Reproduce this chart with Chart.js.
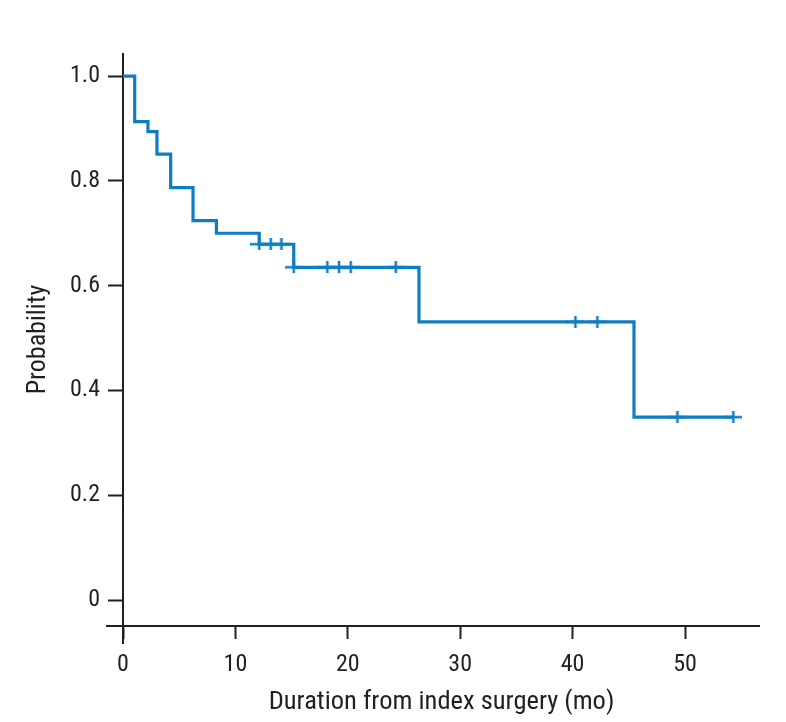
<!DOCTYPE html>
<html>
<head>
<meta charset="utf-8">
<title>Probability over time</title>
<script src="https://cdn.jsdelivr.net/npm/chart.js@4/dist/chart.umd.min.js"></script>
<style>
    html, body { margin: 0; padding: 0; background: #ffffff; }
    #wrap { width: 786px; height: 722px; position: relative; }
</style>
</head>
<body>
<div id="wrap"><canvas id="kmChart"></canvas></div>
<script>

// ================= DATA =================

const eventTimes = [0, 1.04, 2.22, 3.02, 4.24, 6.23, 8.31, 12.12, 15.19, 26.33, 45.46, 54.3];
const survival   = [1.0, 0.913, 0.894, 0.851, 0.787, 0.724, 0.700, 0.679, 0.635, 0.531, 0.349, 0.349];

const censorTimes    = [12.12, 13.14, 14.09, 15.19, 18.18, 19.22, 20.26, 24.26, 40.25, 42.2, 49.32, 54.3];
const censorSurvival = [0.679, 0.679, 0.679, 0.635, 0.635, 0.635, 0.635, 0.635, 0.531, 0.531, 0.349, 0.349];

const xTicks = [0, 10, 20, 30, 40, 50];
const yTicks = [0, 0.2, 0.4, 0.6, 0.8, 1.0];
const yTickLabels = ["0", "0.2", "0.4", "0.6", "0.8", "1.0"];


// ================= STYLE =================

const blue = "#0e7ec4";
const ink = "#231f20";
const font = "'Liberation Sans Narrow', 'Roboto Condensed', 'DejaVu Sans Condensed', sans-serif";

// "+" censor mark, a bit wider than tall
function makeCross() {
    const c = document.createElement("canvas");
    c.width = 18;
    c.height = 12;
    const g = c.getContext("2d");
    g.strokeStyle = blue;
    g.lineWidth = 2.5;
    g.beginPath();
    g.moveTo(0, 6);
    g.lineTo(18, 6);
    g.moveTo(9, 0);
    g.lineTo(9, 12);
    g.stroke();
    return c;
}

// axis lines that cross a little past the origin
const crossAxes = {
    id: "crossAxes",
    beforeDatasetsDraw(chart) {
        const { ctx, scales: { x, y } } = chart;
        const x0 = x.getPixelForValue(0);
        ctx.save();
        ctx.strokeStyle = ink;
        ctx.lineWidth = 2;
        ctx.beginPath();
        ctx.moveTo(x0, y.top);
        ctx.lineTo(x0, y.bottom + 18);
        ctx.moveTo(x.left - 17, y.bottom);
        ctx.lineTo(x.right, y.bottom);
        ctx.stroke();
        ctx.restore();
    }
};


// ================= CHART =================

new Chart(document.getElementById("kmChart"), {

    type: "line",

    data: {
        datasets: [
            {
                data: eventTimes.map((t, i) => ({ x: t, y: survival[i] })),
                borderColor: blue,
                borderWidth: 3.2,
                stepped: "before",
                pointRadius: 0,
                fill: false
            },
            {
                type: "scatter",
                data: censorTimes.map((t, i) => ({ x: t, y: censorSurvival[i] })),
                pointStyle: makeCross(),
                pointRadius: 6
            }
        ]
    },

    plugins: [crossAxes],

    options: {
        responsive: true,
        maintainAspectRatio: false,
        animation: false,
        layout: {
            padding: { top: 53, right: 26, left: 0, bottom: 0 }
        },
        plugins: {
            legend: { display: false },
            tooltip: { enabled: false }
        },
        scales: {
            x: {
                type: "linear",
                min: 0,
                max: 56.67,
                afterBuildTicks: s => { s.ticks = xTicks.map(v => ({ value: v })); },
                afterFit: s => { s.height = 96; },
                border: { display: false },
                grid: {
                    drawOnChartArea: false,
                    drawTicks: true,
                    tickLength: 13,
                    tickWidth: 2,
                    tickColor: ink
                },
                ticks: {
                    color: ink,
                    padding: 12,
                    maxRotation: 0,
                    font: { family: font, size: 24 }
                },
                title: {
                    display: true,
                    text: "Duration from index surgery (mo)",
                    color: ink,
                    padding: { top: 0, bottom: 4 },
                    font: { family: font, size: 26.5 }
                }
            },
            y: {
                min: -0.0496,
                max: 1.044,
                afterBuildTicks: s => { s.ticks = yTicks.map(v => ({ value: v })); },
                afterFit: s => { s.width = 123; },
                border: { display: false },
                grid: {
                    drawOnChartArea: false,
                    drawTicks: true,
                    tickLength: 15,
                    tickWidth: 2,
                    tickColor: ink
                },
                ticks: {
                    color: ink,
                    padding: 8,
                    callback: (v, i) => yTickLabels[i],
                    font: { family: font, size: 24 }
                },
                title: {
                    display: true,
                    text: "Probability",
                    color: ink,
                    padding: { top: 23, bottom: 0 },
                    font: { family: font, size: 26 }
                }
            }
        }
    }

});

</script>
</body>
</html>
